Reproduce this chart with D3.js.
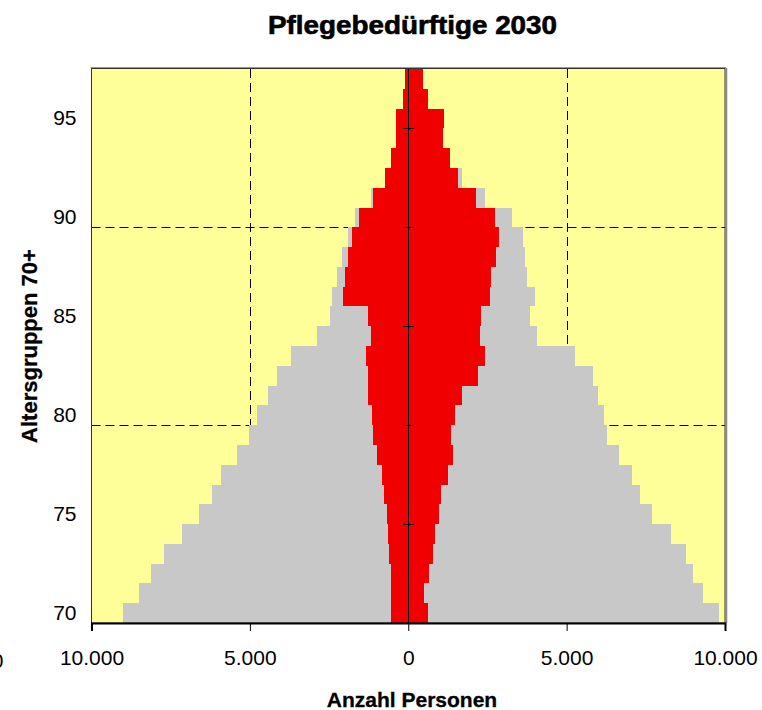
<!DOCTYPE html>
<html>
<head>
<meta charset="utf-8">
<script src="https://cdn.jsdelivr.net/npm/d3@7"></script>
<style>
  html, body { margin: 0; padding: 0; background: #ffffff; }
  svg { display: block; font-family: "Liberation Sans", Arial, sans-serif; }
</style>
</head>
<body>
<svg id="chart" width="762" height="710"></svg>
<script>
// ---- Data ----
const ages = [70,71,72,73,74,75,76,77,78,79,80,81,82,83,84,85,86,87,88,89,90,91,92,93,94,95,96,97];
// left side: total (grey) and care-dependent (red)
const leftTotal = [9000,8500,8120,7710,7150,6610,6200,5920,5410,5030,4780,4430,4150,3710,2890,2480,2410,2260,2100,1910,1690,1180,740,550,390,390,170,110];
const leftCare  = [550,550,550,610,650,680,770,840,990,1120,1150,1280,1280,1340,1180,1280,2070,2000,1910,1780,1560,1120,740,550,390,390,170,110];
// right side: total (grey) and care-dependent (red)
const rightTotal = [9800,9290,9000,8780,8280,7680,7330,7050,6640,6260,6170,5980,5820,5250,4050,3830,3990,3740,3680,3610,3270,2410,1690,1310,1090,1120,615,460];
const rightCare  = [620,490,650,770,840,960,1030,1250,1400,1340,1470,1690,2190,2410,2250,2290,2570,2600,2760,2860,2730,2130,1560,1310,1090,1120,615,460];
const xTickValues = [-10000,-5000,0,5000,10000];
const yTickValues = [70,75,80,85,90,95];
const gridAges = [80,90];
const centerTickAges = [75,80,85,90,95];
const titleText = "Pflegebedürftige 2030";
const xTitle = "Anzahl Personen";
const yTitle = "Altersgruppen 70+";

// ---- Layout ----
const L = 91.5, R = 725, T = 69, B = 623;
const svg = d3.select("#chart");
const x = d3.scaleLinear().domain([-10000, 10000]).range([L, R]);
const y = d3.scaleBand().domain(ages).range([B, T]).padding(0);
const bw = y.bandwidth();
const fmt = v => d3.format(",")(Math.abs(v)).replace(/,/g, ".");

// background
svg.append("rect").attr("x", L).attr("y", T).attr("width", R - L).attr("height", B - T)
  .attr("fill", "#FFFF99");

// gridlines
const grid = svg.append("g").attr("stroke", "#000").attr("stroke-width", 1).attr("stroke-dasharray", "9,5");
[-5000, 5000].forEach(v => {
  grid.append("line").attr("x1", Math.round(x(v)) + 0.5).attr("x2", Math.round(x(v)) + 0.5)
    .attr("y1", T).attr("y2", B);
});
gridAges.forEach(a => {
  const yy = Math.round(y(a) + bw) + 0.5;
  grid.append("line").attr("x1", L).attr("x2", R).attr("y1", yy).attr("y2", yy);
});

const rows = ages.map((a, i) => ({ age: a, lt: leftTotal[i], lc: leftCare[i], rt: rightTotal[i], rc: rightCare[i] }));

// grey bars
const gGrey = svg.append("g").attr("fill", "#C8C8C8").attr("shape-rendering", "crispEdges");
gGrey.selectAll("rect.lt").data(rows).join("rect").attr("class", "lt")
  .attr("x", d => x(-d.lt)).attr("width", d => x(0) - x(-d.lt))
  .attr("y", d => y(d.age)).attr("height", bw);
gGrey.selectAll("rect.rt").data(rows).join("rect").attr("class", "rt")
  .attr("x", x(0)).attr("width", d => x(d.rt) - x(0))
  .attr("y", d => y(d.age)).attr("height", bw);

// red bars
const gRed = svg.append("g").attr("fill", "#F00000").attr("shape-rendering", "crispEdges");
gRed.selectAll("rect.lc").data(rows).join("rect").attr("class", "lc")
  .attr("x", d => x(-d.lc)).attr("width", d => x(0) - x(-d.lc))
  .attr("y", d => y(d.age)).attr("height", bw);
gRed.selectAll("rect.rc").data(rows).join("rect").attr("class", "rc")
  .attr("x", x(0)).attr("width", d => x(d.rc) - x(0))
  .attr("y", d => y(d.age)).attr("height", bw);

// center axis line with cross ticks
const cx = Math.round(x(0)) + 0.5;
svg.append("line").attr("x1", cx).attr("x2", cx).attr("y1", T).attr("y2", B)
  .attr("stroke", "#000").attr("stroke-width", 1);
centerTickAges.forEach(a => {
  const yy = Math.round(y(a) + bw) + 0.5;
  svg.append("line").attr("x1", cx - 5.5).attr("x2", cx + 5.5).attr("y1", yy).attr("y2", yy)
    .attr("stroke", "#000").attr("stroke-width", 1);
});

// plot border
svg.append("line").attr("x1", L - 1).attr("x2", R + 1).attr("y1", T - 1.5).attr("y2", T - 1.5)
  .attr("stroke", "#999").attr("stroke-width", 1);
svg.append("line").attr("x1", R + 1.5).attr("x2", R + 1.5).attr("y1", T - 1).attr("y2", B)
  .attr("stroke", "#888").attr("stroke-width", 1.5);
svg.append("rect").attr("x", L).attr("y", T - 0.5).attr("width", R - L).attr("height", B - T + 0.5)
  .attr("fill", "none").attr("stroke", "#333").attr("stroke-width", 1);

// x axis
const xAxis = svg.append("g").attr("transform", `translate(0,${B})`)
  .call(d3.axisBottom(x).tickValues(xTickValues).tickSize(8).tickPadding(19).tickFormat(fmt));
xAxis.select(".domain").attr("stroke", "#000").attr("stroke-width", 2);
xAxis.selectAll(".tick line").attr("stroke", "#000");
xAxis.selectAll(".tick text").attr("font-size", 21).attr("fill", "#000")
  .attr("font-family", "'Liberation Sans', Arial, sans-serif");

// y axis labels
const yAxis = svg.append("g").attr("transform", `translate(${L},0)`)
  .call(d3.axisLeft(y).tickValues(yTickValues).tickSize(0).tickPadding(15));
yAxis.select(".domain").remove();
yAxis.selectAll(".tick text").attr("font-size", 21).attr("fill", "#000")
  .attr("font-family", "'Liberation Sans', Arial, sans-serif");

// clipped stray label at far left (as in the reference)
svg.append("text").attr("x", 3.5).attr("y", 667.5).attr("text-anchor", "end")
  .attr("font-size", 21).attr("fill", "#000").text("0");

// titles
svg.append("text").attr("x", 412.5).attr("y", 34).attr("text-anchor", "middle")
  .attr("font-size", 25).attr("font-weight", "bold").attr("fill", "#000")
  .attr("stroke", "#000").attr("stroke-width", 0.6)
  .attr("textLength", 289).attr("lengthAdjust", "spacingAndGlyphs").text(titleText);
svg.append("text").attr("x", 412).attr("y", 706.5).attr("text-anchor", "middle")
  .attr("font-size", 21).attr("font-weight", "bold").attr("fill", "#000")
  .attr("stroke", "#000").attr("stroke-width", 0.3).text(xTitle);
svg.append("text").attr("transform", `translate(37,${(T + B) / 2}) rotate(-90)`)
  .attr("text-anchor", "middle")
  .attr("font-size", 22).attr("font-weight", "bold").attr("fill", "#000")
  .attr("stroke", "#000").attr("stroke-width", 0.3).text(yTitle);
</script>
</body>
</html>
